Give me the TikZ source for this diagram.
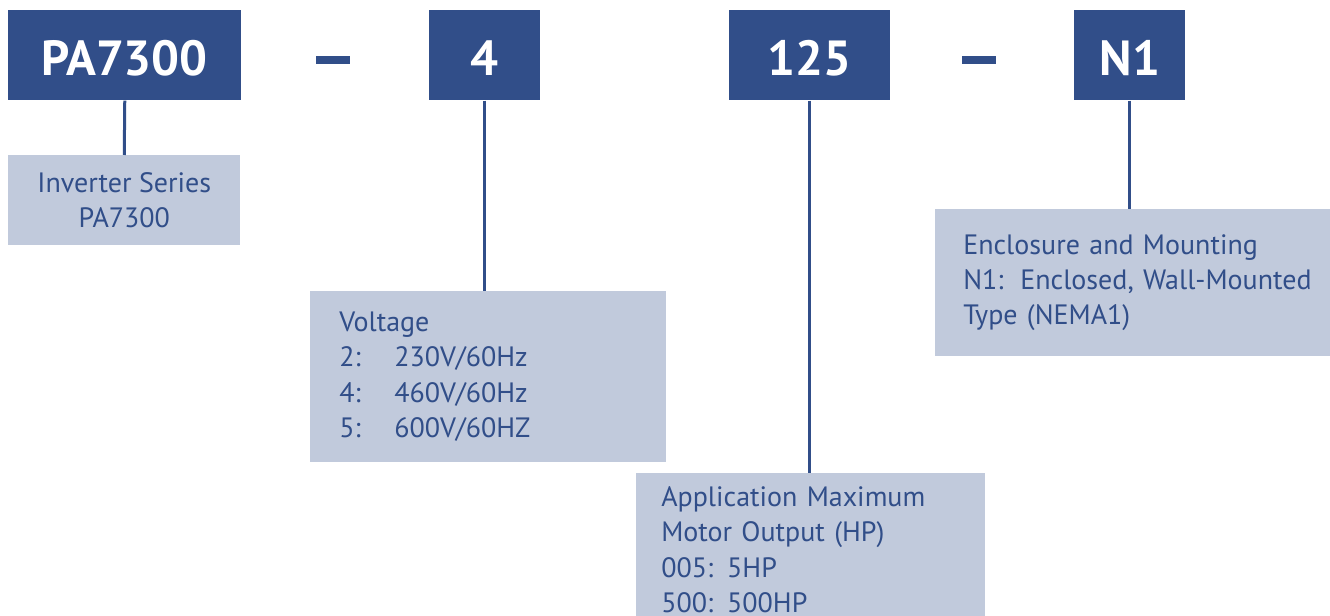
\documentclass[tikz,border=0pt]{standalone}
\usepackage{fontspec}
\setmainfont{PT Sans}
\usepackage{tikz}
\usetikzlibrary{positioning,calc}

\definecolor{codeblue}{HTML}{314E89}
\definecolor{descblue}{HTML}{C1CADC}

\tikzset{
  codebox/.style={fill=codeblue, text=white, anchor=north west, inner sep=0pt,
    minimum height=67.5pt, text height=32pt, text depth=2pt, font=\fontsize{37}{40}\selectfont\bfseries},
  descbox/.style={fill=descblue, text=codeblue, anchor=north west, inner ysep=0pt,
    font=\fontsize{21}{26.5}\selectfont},
  sepdash/.style={fill=codeblue, inner sep=0pt, minimum width=26pt, minimum height=5.5pt},
  link/.style={draw=codeblue, line width=2.25pt}
}

\begin{document}
\begin{tikzpicture}[x=0.75pt, y=-0.75pt]
    \useasboundingbox (0,0) rectangle (1330,616);
    % code blocks
    \node[codebox, minimum width=174.75pt] (series) at (8,10) {PA7300};
    \node[sepdash] (dashA) at (333,60) {};
    \node[codebox, minimum width=83.25pt] (volt) at (429,10) {4};
    \node[codebox, minimum width=120.75pt] (power) at (729,10) {125};
    \node[sepdash] (dashB) at (979,60) {};
    \node[codebox, minimum width=83.25pt] (encl) at (1074,10) {N1};
    % descriptions
    \node[descbox, minimum width=174pt, minimum height=67.5pt, inner xsep=0pt, align=center] (seriesdesc) at (8,155)
      {Inverter Series\\PA7300};
    \node[descbox, minimum width=267pt, minimum height=128.25pt, inner xsep=21.75pt, text width=223.5pt, align=left] (voltdesc) at (310,291)
      {Voltage\\
       \makebox[41.25pt][l]{2:}230V/60Hz\\
       \makebox[41.25pt][l]{4:}460V/60Hz\\
       \makebox[41.25pt][l]{5:}600V/60HZ};
    \node[descbox, minimum width=261.75pt, minimum height=114.75pt, inner xsep=18.75pt, text width=224.25pt, align=left] (powerdesc) at (636,473)
      {Application Maximum\\Motor Output (HP)\\005: 5HP\\500: 500HP};
    \node[descbox, minimum width=296.25pt, minimum height=110.25pt, inner xsep=21pt, text width=254.25pt, align=left] (encldesc) at (935,209)
      {Enclosure and Mounting\\\mbox{N1:\hspace{0.6em}Enclosed, Wall-Mounted}\\Type (NEMA1)};
    % connectors
    \draw[link] (series.south) -- (seriesdesc.north);
    \draw[link] (volt.south) -- (volt.south |- voltdesc.north);
    \draw[link] (power.south) -- (power.south |- powerdesc.north);
    \draw[link] (encl.south) -- (encl.south |- encldesc.north);
\end{tikzpicture}
\end{document}
